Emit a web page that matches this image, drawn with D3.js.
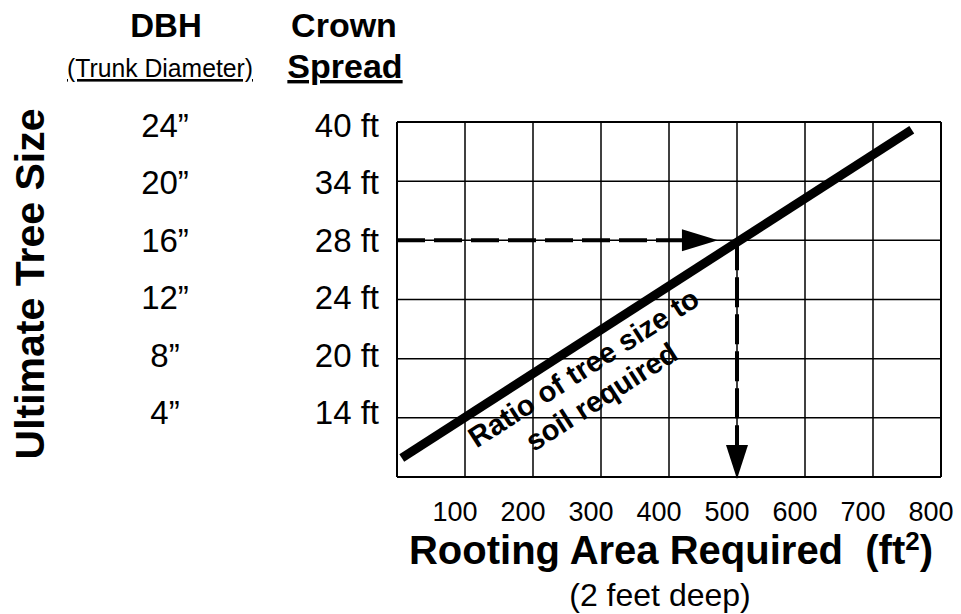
<!DOCTYPE html>
<html>
<head>
<meta charset="utf-8">
<script src="https://cdn.jsdelivr.net/npm/d3@7"></script>
<style>
  body { margin: 0; background: white; }
  text { font-family: "Liberation Sans", Arial, sans-serif; fill: black; }
</style>
</head>
<body>
<script>
var width = 961,
    height = 614;

// data
var rootingTicks = [100, 200, 300, 400, 500, 600, 700, 800];   // ft2
var dbhLabels = ["24\u201d", "20\u201d", "16\u201d", "12\u201d", "8\u201d", "4\u201d"];
var spreadLabels = ["40 ft", "34 ft", "28 ft", "24 ft", "20 ft", "14 ft"];
var ratioArea = [7, 757];      // ends of the thick line, rooting area
var ratioRow = [5.68, 0.13];   // ends of the thick line, row position (0 = 40 ft)
var exampleArea = 500;         // where the 28 ft example meets the line
var exampleRow = 2;            // 28 ft row
var arrowTipArea = 472;        // tip of the horizontal arrow

var svg = d3.select("body").append("svg")
	.attr("width", width)
	.attr("height", height);

var x = d3.scaleLinear().domain([0, 800]).range([397, 941]);
var y = d3.scaleLinear().domain([0, 6]).range([122, 477]);
var labelY = d3.scaleLinear().domain([0, 5]).range([137, 424]); //baselines of the row labels

// grid
svg.selectAll("line.vgrid").data(d3.range(0, 801, 100)).enter()
	.append("line")
		.attr("x1", function(d){return x(d)})
		.attr("x2", function(d){return x(d)})
		.attr("y1", y(0))
		.attr("y2", y(6))
		.style("stroke", "black")
		.style("stroke-width", function(d){return (d == 0 || d == 800) ? 2 : 1.5});

svg.selectAll("line.hgrid").data(d3.range(0, 7)).enter()
	.append("line")
		.attr("x1", x(0))
		.attr("x2", x(800))
		.attr("y1", function(d){return y(d)})
		.attr("y2", function(d){return y(d)})
		.style("stroke", "black")
		.style("stroke-width", function(d){return (d == 0 || d == 6) ? 2 : 1.5});

// dashed example arrows
svg.append("line")
	.attr("x1", x(0))
	.attr("x2", x(arrowTipArea) - 34)
	.attr("y1", y(exampleRow))
	.attr("y2", y(exampleRow))
	.style("stroke", "black")
	.style("stroke-width", 4)
	.style("stroke-dasharray", "28,9");

svg.append("path") //right pointing head
	.attr("d", "M" + x(arrowTipArea) + "," + y(exampleRow)
		+ "L" + (x(arrowTipArea) - 36) + "," + (y(exampleRow) - 11)
		+ "L" + (x(arrowTipArea) - 36) + "," + (y(exampleRow) + 11) + "Z")
	.style("fill", "black");

svg.append("line")
	.attr("x1", x(exampleArea))
	.attr("x2", x(exampleArea))
	.attr("y1", y(exampleRow))
	.attr("y2", y(6) - 30)
	.style("stroke", "black")
	.style("stroke-width", 4)
	.style("stroke-dasharray", "30,7");

svg.append("path") //down pointing head
	.attr("d", "M" + x(exampleArea) + "," + (y(6) + 2)
		+ "L" + (x(exampleArea) - 11) + "," + (y(6) - 32)
		+ "L" + (x(exampleArea) + 11) + "," + (y(6) - 32) + "Z")
	.style("fill", "black");

// thick ratio line
var ratioPts = ratioArea.map(function(d, i){return [x(d), y(ratioRow[i])]});
svg.append("path")
	.datum(ratioPts)
	.attr("d", d3.line())
	.style("stroke", "black")
	.style("stroke-width", 9)
	.style("fill", "none");

var angle = Math.atan2(ratioPts[1][1] - ratioPts[0][1], ratioPts[1][0] - ratioPts[0][0]) * 180 / Math.PI;

var note = svg.append("g")
	.attr("transform", "translate(" + x(117) + "," + y(5.52) + ") rotate(" + angle + ")");
note.append("text")
	.attr("x", 0).attr("y", 0)
	.style("font-size", "29px").style("font-weight", "bold")
	.text("Ratio of tree size to");
note.append("text")
	.attr("x", 46).attr("y", 34)
	.style("font-size", "29px").style("font-weight", "bold")
	.text("soil required");

// x tick labels
svg.selectAll("text.xlab").data(rootingTicks).enter()
	.append("text")
		.attr("x", function(d){return x(d) - 10})
		.attr("y", 521)
		.attr("text-anchor", "middle")
		.style("font-size", "27px")
		.text(function(d){return d});

// row labels
svg.selectAll("text.dbh").data(dbhLabels).enter()
	.append("text")
		.attr("x", 165)
		.attr("y", function(d,i){return labelY(i)})
		.attr("text-anchor", "middle")
		.style("font-size", "33px")
		.text(function(d){return d});

svg.selectAll("text.spread").data(spreadLabels).enter()
	.append("text")
		.attr("x", 379)
		.attr("y", function(d,i){return labelY(i)})
		.attr("text-anchor", "end")
		.style("font-size", "33px")
		.text(function(d){return d});

// headers
svg.append("text").attr("x", 166).attr("y", 37)
	.attr("text-anchor", "middle")
	.style("font-size", "33px").style("font-weight", "bold")
	.text("DBH");
svg.append("text").attr("x", 160).attr("y", 77)
	.attr("text-anchor", "middle")
	.attr("textLength", 186).attr("lengthAdjust", "spacingAndGlyphs")
	.style("font-family", "'Liberation Sans Narrow', 'Liberation Sans', sans-serif")
	.style("font-size", "26px")
	.style("text-decoration", "underline")
	.text("(Trunk Diameter)");
svg.append("text").attr("x", 344).attr("y", 37)
	.attr("text-anchor", "middle")
	.style("font-size", "34px").style("font-weight", "bold")
	.text("Crown");
svg.append("text").attr("x", 345).attr("y", 78)
	.attr("text-anchor", "middle")
	.style("font-size", "34px").style("font-weight", "bold")
	.style("text-decoration", "underline")
	.text("Spread");

// axis titles
svg.append("text")
	.attr("transform", "translate(44,284) rotate(-90)")
	.attr("text-anchor", "middle")
	.style("font-size", "41px").style("font-weight", "bold")
	.text("Ultimate Tree Size");

var xt = svg.append("text").attr("x", 671).attr("y", 564)
	.attr("text-anchor", "middle")
	.style("font-size", "40px").style("font-weight", "bold");
xt.append("tspan").text("Rooting Area Required\u00a0\u00a0(ft");
xt.append("tspan").attr("dy", -14).style("font-size", "26px").text("2");
xt.append("tspan").attr("dy", 14).text(")");

svg.append("text").attr("x", 660).attr("y", 606)
	.attr("text-anchor", "middle")
	.style("font-size", "32px")
	.text("(2 feet deep)");
</script>
</body>
</html>
